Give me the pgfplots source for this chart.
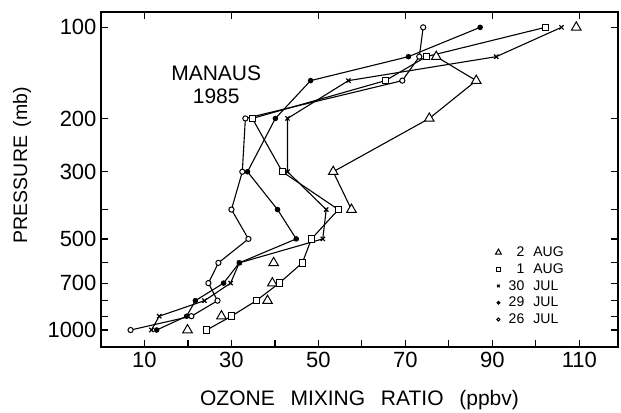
\documentclass[border=0pt]{standalone}
\usepackage{fontspec}
\setmainfont{Liberation Sans}
\usepackage{pgfplots}
\pgfplotsset{compat=1.18}

\pgfplotsset{
  sounding/.style={black, line width=1.1pt},
}

\begin{document}
\begin{tikzpicture}
% minor ticks on the bottom edge only
\begin{axis}[
  at={(0,0)}, anchor=south west,
  scale only axis, width=517pt, height=335pt,
  xmin=0, xmax=118.9, ymin=0, ymax=1,
  axis line style={draw=none},
  xtick={20,40,60,80,100}, xticklabels={}, xtick pos=left,
  ytick=\empty,
  tick align=inside, major tick length=7pt,
  every tick/.style={black, line width=1.2pt},
]
\end{axis}

\begin{axis}[
  at={(0,0)}, anchor=south west,
  scale only axis, width=517pt, height=335pt,
  xmin=0, xmax=118.9,
  ymode=log, ymin=89, ymax=1138, y dir=reverse,
  xtick={10,30,50,70,90,110}, xticklabels={10,30,50,70,90,110},
  ytick={100,200,300,400,500,600,700,800,900,1000},
  yticklabels={100,200,300,,500,,700,,,1000},
  minor ytick={},
  tick align=inside, major tick length=7pt,
  axis line style={line width=1.5pt},
  every tick/.style={black, line width=1.2pt},
  ticklabel style={font=\fontsize{22}{22}\selectfont},
  xticklabel style={yshift=-2pt},
  yticklabel style={xshift=-1pt},
  xlabel={OZONE\hspace{0.75em}MIXING\hspace{0.75em}RATIO\hspace{0.75em}(ppbv)},
  xlabel style={font=\fontsize{21}{21}\selectfont, at={(axis description cs:0.5,0)}, anchor=base, yshift=-58pt},
  ylabel={PRESSURE\hspace{0.45em}(mb)},
  ylabel style={font=\fontsize{19.5}{19.5}\selectfont, at={(axis description cs:0,0.543)}, anchor=center, yshift=79pt},
  legend style={at={(axis cs:90.7,522)}, anchor=north west, draw=none, fill=none,
    font=\fontsize{14}{17}\selectfont, row sep=1.5pt, inner sep=0pt},
  legend cell align=left,
  legend image code/.code={\draw[#1, only marks, every mark/.append style={scale=0.6}] plot coordinates {(0.15cm,0cm)};},
]

% 2 AUG
\addplot[sounding, mark=triangle*, mark size=5.5pt, mark options={fill=white, line width=1pt}]
  coordinates {(77.1,125) (86.3,150) (75.5,200) (53.4,300) (57.6,400)};
\addlegendentry{\makebox[1.5em][r]{2}\hspace{0.65em}AUG}
\addplot[sounding, only marks, mark=triangle*, mark size=5.5pt, mark options={fill=white, line width=1pt}, forget plot]
  coordinates {(109.3,100) (39.7,600) (39.4,700) (38.3,800) (27.7,900) (19.9,1000)};

% 1 AUG
\addplot[sounding, mark=square*, mark size=3.2pt, mark options={fill=white, line width=1pt}]
  coordinates {(102.2,100) (74.8,125) (65.4,150) (34.8,200) (41.7,300) (54.6,400)
               (48.4,500) (46.3,600) (41.0,700) (35.7,800) (30.0,900) (24.3,1000)};
\addlegendentry{\makebox[1.5em][r]{1}\hspace{0.65em}AUG}

% 30 JUL
\addplot[sounding, mark=x, mark size=3pt, mark options={line width=1.2pt}]
  coordinates {(105.9,100) (90.9,125) (56.9,150) (42.9,200) (42.9,300) (51.8,400)
               (51.0,500) (31.8,600) (29.8,700) (23.8,800) (13.4,900) (11.6,1000)};
\addlegendentry{\makebox[1.5em][r]{30}\hspace{0.65em}JUL}

% 29 JUL
\addplot[sounding, mark=*, mark size=2.2pt]
  coordinates {(87.2,100) (70.7,125) (48.2,150) (40.1,200) (33.7,300) (40.6,400)
               (44.9,500) (31.8,600) (28.2,700) (21.7,800) (19.7,900) (12.8,1000)};
\addlegendentry{\makebox[1.5em][r]{29}\hspace{0.65em}JUL}

% 26 JUL
\addplot[sounding, mark=*, mark size=2.6pt, mark options={fill=white, line width=1pt}]
  coordinates {(74.1,100) (73.2,125) (69.3,150) (33.2,200) (32.5,300) (30.0,400)
               (33.9,500) (27.0,600) (24.7,700) (26.8,800) (20.8,900) (6.8,1000)};
\addlegendentry{\makebox[1.5em][r]{26}\hspace{0.65em}JUL}

\node[font=\fontsize{21}{23}\selectfont, align=center] at (axis cs:26.5,154.8) {MANAUS\\1985};
\end{axis}
\path (-101pt,-62pt) rectangle (520pt,347pt);
\end{tikzpicture}
\end{document}
